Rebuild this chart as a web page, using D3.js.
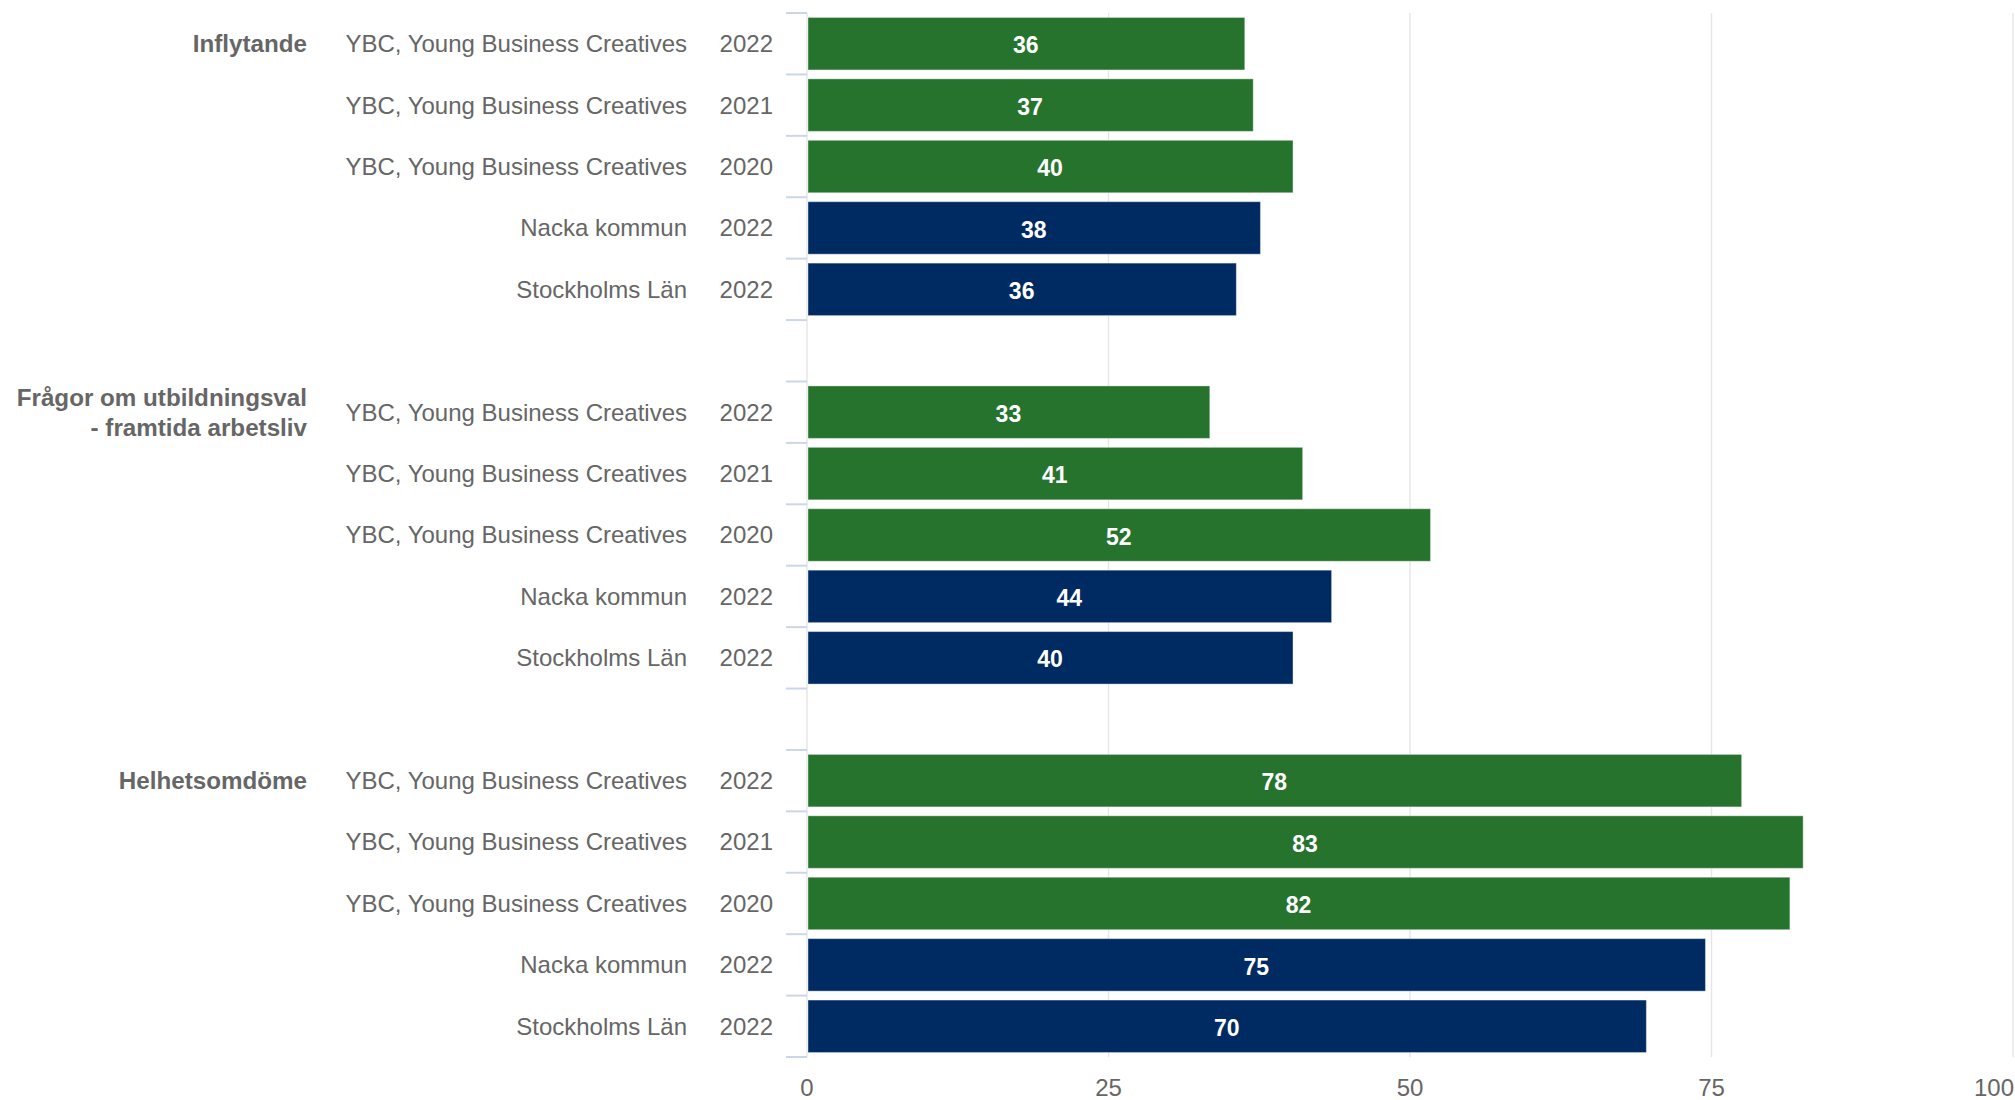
<!DOCTYPE html>
<html>
<head>
<meta charset="utf-8">
<script src="https://cdn.jsdelivr.net/npm/d3@7"></script>
<style>
  body { margin: 0; background: #fff; }
  text { font-family: "Liberation Sans", Arial, Helvetica, sans-serif; }
</style>
</head>
<body>
<svg id="chart" width="2015" height="1100"></svg>
<script>
// grupper (en rad per textrad i etiketten)
var grupper = [["Inflytande"], ["Frågor om utbildningsval", "- framtida arbetsliv"], ["Helhetsomdöme"]];
var enheter = ["YBC, Young Business Creatives", "YBC, Young Business Creatives", "YBC, Young Business Creatives", "Nacka kommun", "Stockholms Län"];
var ar = ["2022", "2021", "2020", "2022", "2022"];
var typ = ["skola", "skola", "skola", "kommun", "kommun"];

// värden per grupp, samma ordning som enheter
var inflytande = [36.3, 37.0, 40.3, 37.6, 35.6];
var utbildningsval = [33.4, 41.1, 51.7, 43.5, 40.3];
var helhetsomdome = [77.5, 82.6, 81.5, 74.5, 69.6];
var xTicks = [0, 25, 50, 75, 100];

var serier = [inflytande, utbildningsval, helhetsomdome];

var svg = d3.select("#chart");
var plotLeft = 807, plotRight = 2013, plotTop = 13, plotBottom = 1057;

// 3 grupper x 5 rader + en tom rad mellan grupperna
var rader = [];
for (var g = 0; g < grupper.length; g++) {
  for (var i = 0; i < enheter.length; i++) {
    rader.push({ slot: g * 6 + i, grupp: g, rad: i, varde: serier[g][i] });
  }
}

var x = d3.scaleLinear().domain([0, 100]).range([plotLeft, plotRight]);
var y = d3.scaleBand().domain(d3.range(17)).range([plotTop, plotBottom]);
var bw = y.bandwidth();
var barH = bw * 0.855;

var color = d3.scaleOrdinal().domain(["skola", "kommun"]).range(["#26732e", "#002b62"]);

// rutnät
svg.append("g").selectAll("line")
  .data(xTicks)
  .enter().append("line")
    .attr("x1", function(d) { return x(d); })
    .attr("x2", function(d) { return x(d); })
    .attr("y1", plotTop)
    .attr("y2", plotBottom)
    .attr("stroke", "#e6e6e6")
    .attr("stroke-width", 1.4);

// x-etiketter
svg.append("g").selectAll("text")
  .data(xTicks)
  .enter().append("text")
    .attr("x", function(d, i) { return i == xTicks.length - 1 ? plotRight + 1 : x(d); })
    .attr("y", plotBottom + 39)
    .attr("text-anchor", function(d, i) { return i == xTicks.length - 1 ? "end" : "middle"; })
    .attr("font-size", 24)
    .attr("fill", "#666666")
    .text(function(d) { return d; });

// tickmarkeringar mellan raderna
var tickY = [];
for (var g = 0; g < grupper.length; g++) {
  for (var i = 0; i <= enheter.length; i++) tickY.push(y(g * 6) + i * bw);
}
svg.append("g").selectAll("line")
  .data(tickY)
  .enter().append("line")
    .attr("x1", plotLeft - 21)
    .attr("x2", plotLeft)
    .attr("y1", function(d) { return d; })
    .attr("y2", function(d) { return d; })
    .attr("stroke", "#ccd6eb")
    .attr("stroke-width", 2);

// staplar
svg.append("g").selectAll("rect")
  .data(rader)
  .enter().append("rect")
    .attr("x", x(0) + 1)
    .attr("y", function(d) { return y(d.slot) + (bw - barH) / 2; })
    .attr("width", function(d) { return x(d.varde) - x(0) - 1; })
    .attr("height", barH)
    .attr("fill", function(d) { return color(typ[d.rad]); })
    .attr("stroke", "#ffffff")
    .attr("stroke-opacity", 0.4)
    .attr("stroke-width", 1);

// värdeetiketter
svg.append("g").selectAll("text")
  .data(rader)
  .enter().append("text")
    .attr("x", function(d) { return (x(0) + x(d.varde)) / 2; })
    .attr("y", function(d) { return y(d.slot) + bw / 2; })
    .attr("dy", "0.42em")
    .attr("text-anchor", "middle")
    .attr("font-size", 23)
    .attr("font-weight", "bold")
    .attr("fill", "#ffffff")
    .text(function(d) { return Math.round(d.varde); });

// radetiketter: enhet och år
var etiketter = svg.append("g")
    .attr("font-size", 24)
    .attr("fill", "#666666")
    .attr("text-anchor", "end");

etiketter.selectAll("text.enhet")
  .data(rader)
  .enter().append("text")
    .attr("class", "enhet")
    .attr("x", 687)
    .attr("y", function(d) { return y(d.slot) + bw / 2; })
    .attr("dy", "0.35em")
    .text(function(d) { return enheter[d.rad]; });

etiketter.selectAll("text.ar")
  .data(rader)
  .enter().append("text")
    .attr("class", "ar")
    .attr("x", 773)
    .attr("y", function(d) { return y(d.slot) + bw / 2; })
    .attr("dy", "0.35em")
    .text(function(d) { return ar[d.rad]; });

// gruppetiketter
var gl = svg.append("g")
    .attr("font-size", 24.2)
    .attr("font-weight", "bold")
    .attr("fill", "#666666")
    .attr("text-anchor", "end");

grupper.forEach(function(rader, g) {
  var cy = y(g * 6) + bw / 2;
  var lh = 30;
  var start = cy - (rader.length - 1) * lh / 2;
  rader.forEach(function(txt, k) {
    gl.append("text")
      .attr("x", 307)
      .attr("y", start + k * lh)
      .attr("dy", "0.35em")
      .text(txt);
  });
});
</script>
</body>
</html>
